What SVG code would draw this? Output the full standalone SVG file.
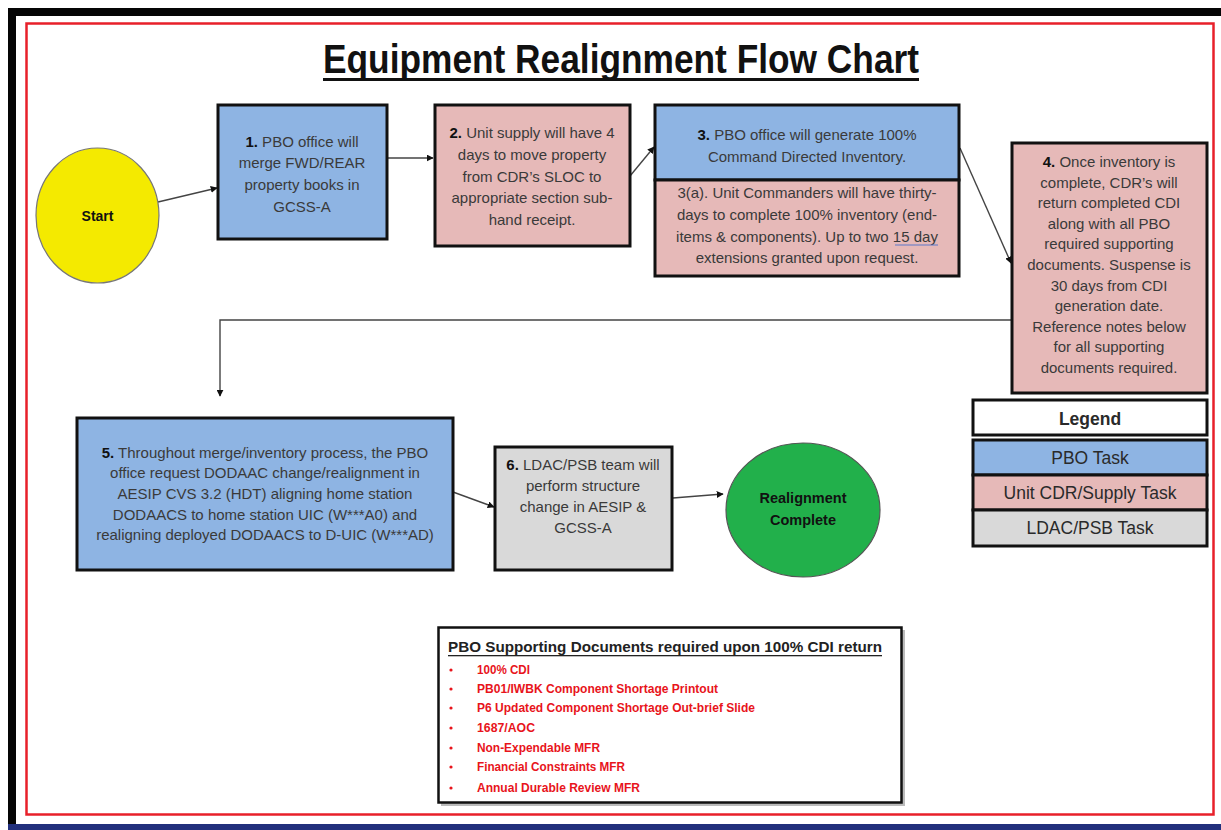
<svg xmlns="http://www.w3.org/2000/svg" width="1221" height="830" viewBox="0 0 1221 830">
<style>
.box{stroke:#111;stroke-width:3}
.blue{fill:#8eb4e3}
.pink{fill:#e6b9b8}
.grey{fill:#d9d9d9}
.t{font-family:"Liberation Sans",Arial,sans-serif;font-size:15px;fill:#3a3a3a;text-anchor:middle}
.t tspan.b{font-weight:bold;fill:#111}
.lg{font-family:"Liberation Sans",Arial,sans-serif;font-size:17.5px;fill:#2a2a2a;text-anchor:middle}
.con{stroke:#444;stroke-width:1.4;fill:none}
.note{font-family:"Liberation Sans",Arial,sans-serif;font-size:12px;font-weight:bold;fill:#e8141b}
</style>
<defs>
<marker id="ah" viewBox="0 0 10 10" refX="9" refY="5" markerWidth="7" markerHeight="7" markerUnits="userSpaceOnUse" orient="auto">
<path d="M0,0 L10,5 L0,10 z" fill="#111"/>
</marker>
</defs>
<rect x="0" y="0" width="1221" height="830" fill="#fff"/>
<g id="frame">
<rect x="8" y="8" width="1213" height="8" fill="#050505"/>
<rect x="8" y="8" width="8" height="818" fill="#050505"/>
<rect x="8" y="824" width="1213" height="6" fill="#22307c"/>
<rect x="26.5" y="23.5" width="1187" height="791" fill="none" stroke="#e8202a" stroke-width="2.5"/>
</g>
<g id="title">
<text x="621" y="73" font-family="'Liberation Sans Narrow','Liberation Sans',Arial,sans-serif" font-size="41" font-weight="bold" fill="#111" text-anchor="middle" textLength="596" lengthAdjust="spacingAndGlyphs">Equipment Realignment Flow Chart</text>
<rect x="323" y="78" width="596" height="3" fill="#111"/>
</g>
<g id="connectors">
<line class="con" x1="158" y1="202" x2="217" y2="188" marker-end="url(#ah)"/>
<line class="con" x1="387" y1="158" x2="433" y2="158" marker-end="url(#ah)"/>
<line class="con" x1="630" y1="176" x2="654" y2="147" marker-end="url(#ah)"/>
<line class="con" x1="960" y1="148" x2="1011" y2="263" marker-end="url(#ah)"/>
<path class="con" d="M1012 320 H220 V396" marker-end="url(#ah)"/>
<line class="con" x1="453" y1="492" x2="494" y2="507" marker-end="url(#ah)"/>
<line class="con" x1="673" y1="498" x2="723" y2="494" marker-end="url(#ah)"/>
</g>
<g id="start">
<ellipse cx="97.5" cy="215.5" rx="61.5" ry="67.5" fill="#f4ea00" stroke="#777" stroke-width="1.2"/>
<text x="97.5" y="221" font-family="'Liberation Sans',Arial,sans-serif" font-size="14" font-weight="bold" fill="#111" text-anchor="middle">Start</text>
</g>
<g id="step1">
<rect class="box blue" x="218" y="105" width="169" height="134"/>
<text class="t"><tspan x="302" y="147"><tspan class="b">1.</tspan> PBO office will</tspan><tspan x="302" y="168">merge FWD/REAR</tspan><tspan x="302" y="190">property books in</tspan><tspan x="302" y="212">GCSS-A</tspan></text>
</g>
<g id="step2">
<rect class="box pink" x="435" y="105" width="195" height="141"/>
<text class="t"><tspan x="532" y="138"><tspan class="b">2.</tspan> Unit supply will have 4</tspan><tspan x="532" y="160">days to move property</tspan><tspan x="532" y="182">from CDR’s SLOC to</tspan><tspan x="532" y="203">appropriate section sub-</tspan><tspan x="532" y="225">hand receipt.</tspan></text>
</g>
<g id="step3">
<rect class="box blue" x="655" y="105" width="304" height="75"/>
<rect class="box pink" x="655" y="180" width="304" height="96"/>
<text class="t"><tspan x="807" y="140"><tspan class="b">3.</tspan> PBO office will generate 100%</tspan><tspan x="807" y="162">Command Directed Inventory.</tspan></text>
<text class="t"><tspan x="807" y="198">3(a).  Unit Commanders will have thirty-</tspan><tspan x="807" y="220">days to complete 100% inventory (end-</tspan><tspan x="807" y="242">items &amp; components). Up to two 15 day</tspan><tspan x="807" y="263">extensions granted upon request.</tspan></text>
<line x1="895" y1="245" x2="938" y2="245" stroke="#5a78c8" stroke-width="1.2"/>
</g>
<g id="step4">
<rect class="box pink" x="1012" y="143" width="195" height="250"/>
<text class="t"><tspan x="1109" y="167"><tspan class="b">4.</tspan> Once inventory is</tspan><tspan x="1109" y="188">complete, CDR’s will</tspan><tspan x="1109" y="208">return completed CDI</tspan><tspan x="1109" y="229">along with all PBO</tspan><tspan x="1109" y="249">required supporting</tspan><tspan x="1109" y="270">documents. Suspense is</tspan><tspan x="1109" y="291">30 days from CDI</tspan><tspan x="1109" y="311">generation date.</tspan><tspan x="1109" y="332">Reference notes below</tspan><tspan x="1109" y="352">for all supporting</tspan><tspan x="1109" y="373">documents required.</tspan></text>
</g>
<g id="step5">
<rect class="box blue" x="77" y="418" width="376" height="152"/>
<text class="t"><tspan x="265" y="458"><tspan class="b">5.</tspan> Throughout merge/inventory process, the PBO</tspan><tspan x="265" y="478">office request DODAAC change/realignment in</tspan><tspan x="265" y="499">AESIP CVS 3.2 (HDT) aligning home station</tspan><tspan x="265" y="520">DODAACS to home station UIC (W***A0) and</tspan><tspan x="265" y="540">realigning deployed DODAACS to D-UIC (W***AD)</tspan></text>
</g>
<g id="step6">
<rect class="box grey" x="495" y="447" width="177" height="123"/>
<text class="t"><tspan x="583" y="470"><tspan class="b">6.</tspan> LDAC/PSB team will</tspan><tspan x="583" y="491">perform structure</tspan><tspan x="583" y="512">change in AESIP &amp;</tspan><tspan x="583" y="533">GCSS-A</tspan></text>
</g>
<g id="end">
<ellipse cx="803" cy="510" rx="77" ry="67" fill="#22b04b" stroke="#555" stroke-width="1.2"/>
<text font-family="'Liberation Sans',Arial,sans-serif" font-size="14.5" font-weight="bold" fill="#111" text-anchor="middle"><tspan x="803" y="503">Realignment</tspan><tspan x="803" y="525">Complete</tspan></text>
</g>
<g id="legend">
<rect class="box" x="973" y="400" width="234" height="35" fill="#fff"/>
<rect class="box blue" x="973" y="440" width="234" height="35"/>
<rect class="box pink" x="973" y="475" width="234" height="35"/>
<rect class="box grey" x="973" y="510" width="234" height="36"/>
<text class="lg" x="1090" y="425" font-weight="bold" fill="#111">Legend</text>
<text class="lg" x="1090" y="464">PBO Task</text>
<text class="lg" x="1090" y="499">Unit CDR/Supply Task</text>
<text class="lg" x="1090" y="534">LDAC/PSB Task</text>
</g>
<g id="notes">
<rect x="441" y="630" width="464" height="176" fill="#bbb"/>
<rect x="438.5" y="627.5" width="463" height="175" fill="#fff" stroke="#111" stroke-width="2.5"/>
<text x="448" y="652" font-family="'Liberation Sans',Arial,sans-serif" font-size="15" font-weight="bold" fill="#222" textLength="434" lengthAdjust="spacingAndGlyphs">PBO Supporting Documents required upon 100% CDI return</text>
<rect x="448" y="655" width="434" height="1.3" fill="#222"/>
<g fill="#e8141b">
<circle cx="451" cy="670" r="1.6"/><circle cx="451" cy="689" r="1.6"/><circle cx="451" cy="708" r="1.6"/><circle cx="451" cy="728" r="1.6"/><circle cx="451" cy="748" r="1.6"/><circle cx="451" cy="767" r="1.6"/><circle cx="451" cy="788" r="1.6"/>
</g>
<text class="note" x="477" y="674" textLength="53" lengthAdjust="spacingAndGlyphs">100% CDI</text>
<text class="note" x="477" y="693" textLength="241" lengthAdjust="spacingAndGlyphs">PB01/IWBK Component Shortage Printout</text>
<text class="note" x="477" y="712" textLength="278" lengthAdjust="spacingAndGlyphs">P6 Updated Component Shortage Out-brief Slide</text>
<text class="note" x="477" y="732" textLength="58" lengthAdjust="spacingAndGlyphs">1687/AOC</text>
<text class="note" x="477" y="752" textLength="123" lengthAdjust="spacingAndGlyphs">Non-Expendable MFR</text>
<text class="note" x="477" y="771" textLength="148" lengthAdjust="spacingAndGlyphs">Financial Constraints MFR</text>
<text class="note" x="477" y="792" textLength="163" lengthAdjust="spacingAndGlyphs">Annual Durable Review MFR</text>
</g>
</svg>
